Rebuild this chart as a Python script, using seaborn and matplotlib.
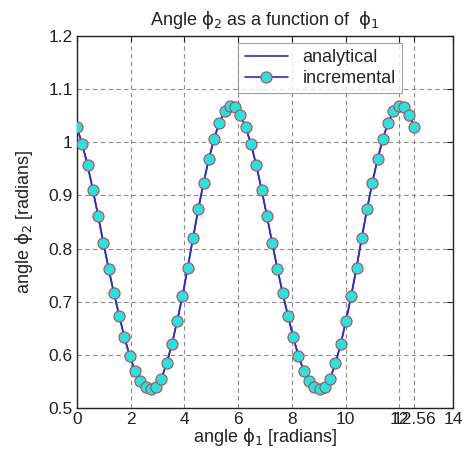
import numpy as np
import pandas as pd
import matplotlib
matplotlib.use("Agg")
import matplotlib.pyplot as plt
import seaborn as sns

# sample angles phi1 (radians), 65 samples from 0 to 12.56
phi1 = [0.000, 0.196, 0.393, 0.589, 0.785, 0.982, 1.178, 1.374, 1.571, 1.767,
        1.963, 2.160, 2.356, 2.553, 2.749, 2.945, 3.142, 3.338, 3.534, 3.731,
        3.927, 4.123, 4.320, 4.516, 4.712, 4.909, 5.105, 5.301, 5.498, 5.694,
        5.890, 6.087, 6.283, 6.480, 6.676, 6.872, 7.069, 7.265, 7.461, 7.658,
        7.854, 8.050, 8.247, 8.443, 8.639, 8.836, 9.032, 9.229, 9.425, 9.621,
        9.818, 10.014, 10.210, 10.407, 10.603, 10.799, 10.996, 11.192, 11.388,
        11.585, 11.781, 11.977, 12.174, 12.370, 12.566]

phi2 = [1.028, 0.996, 0.957, 0.911, 0.862, 0.811, 0.762, 0.716, 0.674, 0.633,
        0.598, 0.570, 0.551, 0.540, 0.535, 0.539, 0.555, 0.584, 0.620, 0.664,
        0.711, 0.764, 0.820, 0.874, 0.924, 0.968, 1.007, 1.037, 1.058, 1.068,
        1.067, 1.052, 1.028,
        0.996, 0.957, 0.911, 0.862, 0.811, 0.762, 0.716, 0.674, 0.633,
        0.598, 0.570, 0.551, 0.540, 0.535, 0.539, 0.555, 0.584, 0.620, 0.664,
        0.711, 0.764, 0.820, 0.874, 0.924, 0.968, 1.007, 1.037, 1.058, 1.068,
        1.067, 1.052, 1.028]

xticks = [0, 2, 4, 6, 8, 10, 12, 12.56, 14]
xticklabels = ["0", "2", "4", "6", "8", "10", "12", "12.56", "14"]
yticks = [0.5, 0.6, 0.7, 0.8, 0.9, 1.0, 1.1, 1.2]
yticklabels = ["0.5", "0.6", "0.7", "0.8", "0.9", "1", "1.1", "1.2"]

sns.set_style("white")
plt.rcParams["font.family"] = ["Liberation Sans", "DejaVu Sans"]
plt.rcParams["mathtext.fontset"] = "dejavusans"

df = pd.DataFrame({"phi1": phi1, "phi2": phi2})

fig = plt.figure(figsize=(4.65, 4.57), dpi=100)
ax = fig.add_axes([77 / 465, 1 - 408 / 457, (453 - 77) / 465, (408 - 36) / 457])

line_color = "#2a2ad6"
sns.lineplot(data=df, x="phi1", y="phi2", ax=ax, color=line_color, lw=1.2,
             label="analytical", zorder=3)
sns.lineplot(data=df, x="phi1", y="phi2", ax=ax, color=line_color, lw=1.2,
             marker="o", markersize=8, markerfacecolor="#1ce6e6",
             markeredgecolor="#d04040", markeredgewidth=0.8,
             label="incremental", zorder=4)

ax.set_xlim(0, 14)
ax.set_ylim(0.5, 1.2)
ax.set_xticks(xticks)
ax.set_xticklabels(xticklabels)
ax.set_yticks(yticks)
ax.set_yticklabels(yticklabels)
ax.tick_params(direction="in", top=True, right=True, length=4, width=0.8,
               labelsize=12.5, colors="#222222", pad=3)
ax.grid(True, color="#8c8c8c", linestyle=(0, (4, 3)), linewidth=0.8)
for s in ax.spines.values():
    s.set_color("#222222")
    s.set_linewidth(1.0)

ax.set_title(r"Angle $\mathrm{\phi}_2$ as a function of  $\mathrm{\phi}_1$",
             fontsize=13, pad=8, color="#222222")
ax.set_xlabel(r"angle $\mathrm{\phi}_1$ [radians]", fontsize=13, labelpad=-1,
              color="#222222")
ax.set_ylabel(r"angle $\mathrm{\phi}_2$ [radians]", fontsize=13, labelpad=10,
              color="#222222")

leg = ax.legend(loc="upper right", bbox_to_anchor=((402 - 77) / 376, (408 - 43) / 372),
                fontsize=13, frameon=True, fancybox=False, borderaxespad=0,
                handlelength=2.4, handletextpad=0.8, borderpad=0.35, labelspacing=0.2)
leg.get_frame().set_edgecolor("#888888")
leg.get_frame().set_linewidth(0.8)

fig.savefig("out.png", dpi=100)
